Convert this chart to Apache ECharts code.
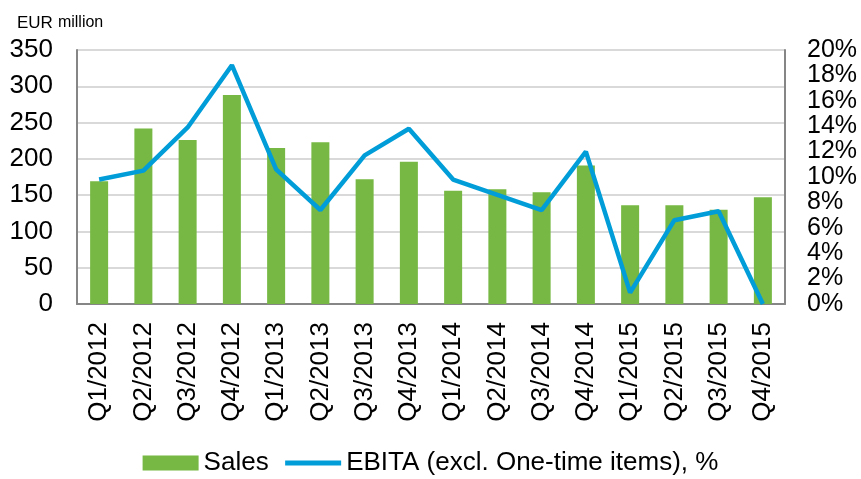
<!DOCTYPE html>
<html>
<head>
<meta charset="utf-8">
<script src="https://cdn.jsdelivr.net/npm/echarts@6/dist/echarts.min.js"></script>
<style>
  html, body { margin: 0; padding: 0; background: #fff; }
  #chart { width: 861px; height: 479px; }
</style>
</head>
<body>
<div id="chart"></div>
<script>
// quarters
var categories = ["Q1/2012", "Q2/2012", "Q3/2012", "Q4/2012", "Q1/2013", "Q2/2013", "Q3/2013", "Q4/2013",
  "Q1/2014", "Q2/2014", "Q3/2014", "Q4/2014", "Q1/2015", "Q2/2015", "Q3/2015", "Q4/2015"];
// EUR million
var sales = [169, 242, 226, 288, 215, 223, 172, 196, 156, 158, 154, 191, 136, 136, 130, 147];
// %
var ebita = [9.8, 10.5, 13.9, 18.8, 10.6, 7.4, 11.7, 13.8, 9.8, 8.6, 7.4, 12.0, 0.9, 6.6, 7.3, 0];

var font = "Liberation Sans, Arial, sans-serif";
var chart = echarts.init(document.getElementById("chart"));

var option = {
  animation: false,
  title: {
    left: 12,
    top: 9,
    text: "{a|EUR} {b|million}",
    textStyle: {
      rich: {
        a: { fontSize: 17, fontFamily: font, color: "#000", fontWeight: "normal" },
        b: { fontSize: 16, fontFamily: font, color: "#000", fontWeight: "normal" }
      }
    }
  },
  grid: { left: 77, right: 76, top: 50, bottom: 175 },
  legend: {
    bottom: -2,
    left: "center",
    itemWidth: 56,
    itemHeight: 15,
    itemGap: 14,
    textStyle: { fontSize: 26, fontFamily: font, color: "#000" },
    data: [
      { name: "Sales", icon: "rect" },
      { name: "EBITA (excl. One-time items), %", itemStyle: { opacity: 0 }, lineStyle: { width: 5 } }
    ]
  },
  xAxis: {
    type: "category",
    data: categories,
    axisLine: { lineStyle: { color: "#868686", width: 2 } },
    axisTick: { show: false },
    axisLabel: { rotate: 90, margin: 18, fontSize: 26, fontFamily: font, color: "#000" }
  },
  yAxis: [
    {
      type: "value",
      min: 0, max: 350, interval: 50,
      axisLine: { show: true, lineStyle: { color: "#868686", width: 2 } },
      axisTick: { show: false },
      splitLine: { lineStyle: { color: "#d9d9d9", width: 2 } },
      axisLabel: { margin: 24, fontSize: 26, fontFamily: font, color: "#000", showMinLabel: true, showMaxLabel: true }
    },
    {
      type: "value",
      min: 0, max: 20, interval: 2,
      axisLine: { show: true, lineStyle: { color: "#868686", width: 2 } },
      axisTick: { show: false },
      splitLine: { show: false },
      axisLabel: {
        margin: 22, fontSize: 25, lineHeight: 20, fontFamily: font, color: "#000",
        showMinLabel: true, showMaxLabel: true, hideOverlap: false,
        formatter: "{value}%"
      }
    }
  ],
  series: [
    {
      name: "Sales",
      type: "bar",
      data: sales,
      barWidth: 18,
      itemStyle: { color: "#76b843" }
    },
    {
      name: "EBITA (excl. One-time items), %",
      type: "line",
      yAxisIndex: 1,
      data: ebita,
      symbol: "none",
      lineStyle: { color: "#009dd9", width: 4.5 },
      itemStyle: { color: "#009dd9" }
    }
  ]
};

chart.setOption(option);
window.onresize = chart.resize;
</script>
</body>
</html>
